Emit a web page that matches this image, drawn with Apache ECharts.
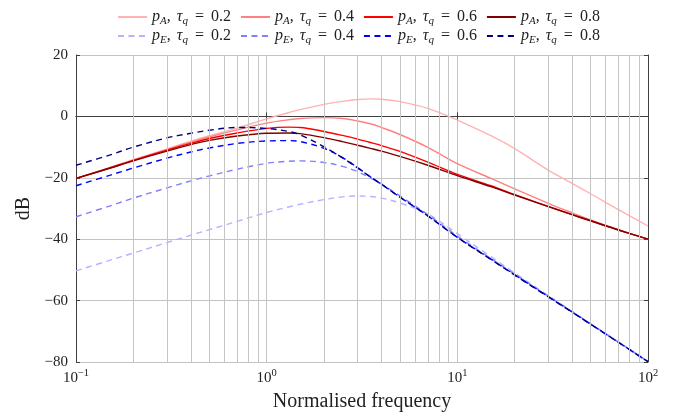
<!DOCTYPE html>
<html><head><meta charset="utf-8">
<script src="https://cdn.jsdelivr.net/npm/echarts@6/dist/echarts.min.js"></script>
<style>html,body{margin:0;padding:0;background:#fff}#c{width:678px;height:417px}</style>
</head><body><div id="c"></div>
<script>
// Normalised frequency samples (log axis)
const freq = [0.1,0.15,0.2,0.3,0.4,0.5,0.7,1,1.3,1.5,2,2.5,3,3.5,4,5,7,10,15,20,30,40,50,70,100];
// dB values
const pA02 = [-20.2,-16.7,-14.1,-10.6,-8.1,-6.3,-3.8,-0.8,1.2,2.2,3.9,4.9,5.5,5.7,5.6,4.8,2.6,-1.2,-6.3,-10.5,-17.5,-21.8,-25.2,-30.4,-35.7];
const pA04 = [-20.2,-16.8,-14.2,-10.8,-8.4,-6.7,-4.4,-2.2,-1.1,-0.7,-0.4,-0.7,-1.5,-2.4,-3.6,-5.9,-10.1,-15.4,-20.2,-23.6,-28.3,-31.4,-33.7,-36.9,-40.0];
const pA06 = [-20.2,-16.8,-14.3,-11.0,-8.8,-7.2,-5.4,-3.9,-3.5,-3.6,-4.9,-6.2,-7.4,-8.5,-9.5,-11.4,-14.9,-18.9,-22.6,-25.5,-29.3,-32.0,-34.0,-37.0,-40.0];
const pA08 = [-20.2,-16.9,-14.5,-11.3,-9.2,-7.8,-6.4,-5.5,-5.4,-5.6,-6.9,-8.2,-9.4,-10.4,-11.3,-13.0,-15.9,-19.3,-22.9,-25.6,-29.4,-32.0,-34.0,-37.0,-40.0];
const pE02 = [-50.3,-46.9,-44.5,-41.1,-38.7,-36.9,-34.2,-31.3,-29.5,-28.6,-27.1,-26.2,-25.9,-26.1,-26.6,-28.2,-31.8,-38.2,-45.7,-51.0,-58.4,-63.5,-67.5,-73.5,-79.9];
const pE04 = [-32.7,-29.2,-26.6,-23.3,-21.0,-19.4,-17.2,-15.3,-14.6,-14.5,-15.0,-16.3,-18.0,-20.0,-22.0,-25.9,-32.0,-39.0,-46.3,-51.4,-58.6,-63.6,-67.6,-73.5,-79.9];
const pE06 = [-22.6,-19.2,-16.8,-13.6,-11.6,-10.3,-8.8,-8.0,-7.9,-8.2,-10.4,-13.4,-16.7,-19.7,-22.1,-26.3,-32.4,-39.4,-46.5,-51.6,-58.7,-63.7,-67.7,-73.6,-79.9];
const pE08 = [-15.9,-12.6,-10.0,-7.0,-5.5,-4.5,-3.6,-3.9,-4.9,-6.0,-9.9,-13.5,-16.8,-19.7,-22.1,-26.3,-32.4,-39.4,-46.6,-51.7,-58.8,-63.8,-67.7,-73.6,-79.9];

const seriesNames = ['p_A, τ_q = 0.2','p_A, τ_q = 0.4','p_A, τ_q = 0.6','p_A, τ_q = 0.8',
                     'p_E, τ_q = 0.2','p_E, τ_q = 0.4','p_E, τ_q = 0.6','p_E, τ_q = 0.8'];
const seriesValues = [pA02,pA04,pA06,pA08,pE02,pE04,pE06,pE08];
const seriesColors = ['#ffb3b3','#ff8080','#ff0000','#800000','#b3b3ff','#8080ff','#0000ff','#000080'];
const seriesDashed = [false,false,false,false,true,true,true,true];
const minorGrid = [0.2,0.3,0.4,0.5,0.6,0.7,0.8,0.9,2,3,4,5,6,7,8,9,20,30,40,50,60,70,80,90];
const xMin = 0.1, xMax = 100, yMin = -80, yMax = 20, yStep = 20;

const FONT = '"Liberation Serif", serif';
const GRID = '#c4c4c4';
const AXIS = '#404040';

const chart = echarts.init(document.getElementById('c'), null, {renderer: 'canvas'});

const legendRich = {
  i: {fontFamily: FONT, fontStyle: 'italic', fontSize: 16, color: '#222'},
  sub: {fontFamily: FONT, fontStyle: 'italic', fontSize: 11, color: '#222', padding: [8,0,0,0]},
  n: {fontFamily: FONT, fontSize: 16, color: '#222'},
  eq: {fontFamily: FONT, fontSize: 16, color: '#222', padding: [0,7,0,7]},
  cm: {fontFamily: FONT, fontSize: 16, color: '#222', padding: [0,6,0,0]}
};
function legendFmt(name) {
  const m = name.match(/p_(\w), τ_q = ([\d.]+)/);
  return '{i|p}{sub|' + m[1] + '}{cm|,}{i|τ}{sub|q}{eq|=}{n|' + m[2] + '}';
}
function mkLegend(names, top) {
  return {
    data: names, top: top, left: 112, itemWidth: 29, itemHeight: 12, itemGap: 9,
    orient: 'horizontal', formatter: legendFmt, selectedMode: false,
    itemStyle: {opacity: 0},
    textStyle: {rich: legendRich}
  };
}

const series = [{
  type: 'line', data: [], silent: true, xAxisIndex: 0, yAxisIndex: 0,
  markLine: {
    silent: true, symbol: ['none','none'], label: {show: false}, animation: false,
    lineStyle: {color: GRID, type: 'solid', width: 1},
    emphasis: {disabled: true},
    data: minorGrid.map(v => ({xAxis: v}))
  }
}];
seriesNames.forEach((nm, k) => {
  series.push({
    name: nm, type: 'line', smooth: 0.35, symbol: 'none', showSymbol: false,
    xAxisIndex: 0, yAxisIndex: 0,
    data: freq.map((f, j) => [f, seriesValues[k][j]]),
    lineStyle: {color: seriesColors[k], width: 1.4, type: seriesDashed[k] ? [6,4.5] : 'solid'},
    itemStyle: {color: seriesColors[k]},
    emphasis: {disabled: true}
  });
});

const xLabelRich = {
  b: {fontFamily: FONT, fontSize: 15, color: '#222'},
  s: {fontFamily: FONT, fontSize: 10.5, color: '#222', padding: [0,0,9,0]}
};

chart.setOption({
  animation: false,
  backgroundColor: '#fff',
  grid: {left: 76, right: 30, top: 55, bottom: 53, containLabel: false},
  legend: [mkLegend(seriesNames.slice(0,4), 4), mkLegend(seriesNames.slice(4), 23)],
  xAxis: [{
    type: 'log', logBase: 10, min: xMin, max: xMax, position: 'bottom',
    name: 'Normalised frequency', nameLocation: 'middle', nameGap: 30,
    nameTextStyle: {fontFamily: FONT, fontSize: 20, color: '#222'},
    axisLine: {show: true, lineStyle: {color: AXIS, width: 1}},
    axisTick: {show: true, inside: true, length: 4, lineStyle: {color: AXIS}},
    axisLabel: {
      margin: 6, rich: xLabelRich,
      formatter: v => {
        const e = Math.round(Math.log10(v));
        return '{b|10}{s|' + (e < 0 ? '−' + (-e) : e) + '}';
      }
    },
    splitLine: {show: true, lineStyle: {color: GRID, width: 1}}
  }, {
    type: 'log', logBase: 10, min: xMin, max: xMax, position: 'top',
    axisLine: {show: true, lineStyle: {color: AXIS, width: 1}},
    axisTick: {show: true, inside: true, length: 4, lineStyle: {color: AXIS}},
    axisLabel: {show: false}, splitLine: {show: false}
  }],
  yAxis: [{
    type: 'value', min: yMin, max: yMax, interval: yStep, position: 'left',
    name: 'dB', nameLocation: 'middle', nameGap: 41, nameRotate: 90,
    nameTextStyle: {fontFamily: FONT, fontSize: 20, color: '#222'},
    axisLine: {show: true, lineStyle: {color: AXIS, width: 1}},
    axisTick: {show: true, inside: true, length: 4, lineStyle: {color: AXIS}},
    axisLabel: {margin: 8, fontFamily: FONT, fontSize: 15, color: '#222',
      formatter: v => (v < 0 ? '−' + (-v) : '' + v)},
    splitLine: {show: true, lineStyle: {color: GRID, width: 1}}
  }, {
    type: 'value', min: yMin, max: yMax, interval: yStep, position: 'right',
    axisLine: {show: true, lineStyle: {color: AXIS, width: 1}},
    axisTick: {show: true, inside: true, length: 4, lineStyle: {color: AXIS}},
    axisLabel: {show: false}, splitLine: {show: false}
  }],
  series: series
});
</script></body></html>
